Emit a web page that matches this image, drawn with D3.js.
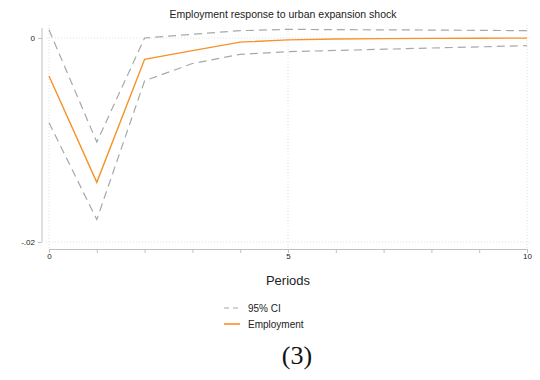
<!DOCTYPE html>
<html>
<head>
<meta charset="utf-8">
<script src="https://cdn.jsdelivr.net/npm/d3@7"></script>
<style>
  body { margin: 0; background: #fff; }
  svg { display: block; }
</style>
</head>
<body>
<svg id="chart" width="540" height="380"></svg>
<script>
// Impulse response of employment to an urban expansion shock
const periods = [0, 1, 2, 3, 4, 5, 6, 7, 8, 9, 10];
const employment = [-0.00372, -0.01415, -0.00209, -0.00124, -0.0004, -0.00018, -0.0001, -0.00006, -0.00004, -0.00002, -0.00001];
const ciUpper = [0.0008, -0.0102, 0.0, 0.00036, 0.00072, 0.00085, 0.00082, 0.0008, 0.00078, 0.00075, 0.00072];
const ciLower = [-0.0083, -0.0178, -0.0042, -0.0025, -0.0016, -0.00134, -0.00122, -0.0011, -0.00098, -0.00087, -0.00075];
const xMajorTicks = [0, 5, 10];
const yTicks = [0, -0.02];
const yTickLabels = ["0", "-.02"];

const svg = d3.select("#chart");
const font = "Helvetica, Arial, 'Liberation Sans', sans-serif";

const x = d3.scaleLinear().domain([0, 10]).range([49, 527]);
const y = d3.scaleLinear().domain([-0.02, 0]).range([242, 38]);

// Gridlines
const grid = svg.append("g").attr("stroke", "#d8d8d8").attr("stroke-width", 0.8)
  .attr("stroke-dasharray", "1,2");
xMajorTicks.forEach(t => {
  grid.append("line").attr("x1", x(t)).attr("x2", x(t)).attr("y1", 25).attr("y2", 248);
});
yTicks.forEach(t => {
  grid.append("line").attr("x1", 46).attr("x2", 530).attr("y1", y(t)).attr("y2", y(t));
});

// X axis
const xAxis = svg.append("g").attr("transform", "translate(0,249)")
  .call(d3.axisBottom(x).tickValues(periods).tickSize(4).tickSizeOuter(0)
    .tickFormat(d => xMajorTicks.includes(d) ? d : ""));
xAxis.select(".domain").attr("stroke", "#c0c0c0");
xAxis.selectAll(".tick line").attr("stroke", "#c0c0c0");
xAxis.selectAll("text").attr("font-family", font).attr("font-size", 8).attr("fill", "#222").attr("dy", "0.9em").attr("y", 3);

// Y axis
const yAxis = svg.append("g").attr("transform", "translate(42,0)")
  .call(d3.axisLeft(y).tickValues(yTicks).tickSize(4).tickSizeOuter(0)
    .tickFormat((d, i) => yTickLabels[i]));
yAxis.select(".domain").attr("stroke", "#c0c0c0").attr("d", `M0,28V${y(-0.02)}`);
yAxis.selectAll(".tick line").attr("stroke", "#c0c0c0");
yAxis.selectAll("text").attr("font-family", font).attr("font-size", 8).attr("fill", "#222").attr("x", -7);

// Lines
const line = arr => d3.line().x((d, i) => x(periods[i])).y(d => y(d))(arr);
[ciUpper, ciLower].forEach(arr => {
  svg.append("path").attr("d", line(arr)).attr("fill", "none")
    .attr("stroke", "#a8a8a8").attr("stroke-width", 1.2).attr("stroke-dasharray", "8,5");
});
svg.append("path").attr("d", line(employment)).attr("fill", "none")
  .attr("stroke", "#f7922a").attr("stroke-width", 1.4);

// Title
svg.append("text").attr("x", 283).attr("y", 18).attr("text-anchor", "middle")
  .attr("font-family", font).attr("font-size", 10.5).attr("fill", "#222")
  .text("Employment response to urban expansion shock");

// Axis title
svg.append("text").attr("x", 288).attr("y", 285).attr("text-anchor", "middle")
  .attr("font-family", font).attr("font-size", 13).attr("fill", "#222").text("Periods");

// Legend
const legend = svg.append("g");
legend.append("line").attr("x1", 224).attr("x2", 240).attr("y1", 308).attr("y2", 308)
  .attr("stroke", "#a8a8a8").attr("stroke-width", 1.2).attr("stroke-dasharray", "5,4");
legend.append("text").attr("x", 248).attr("y", 311.5).attr("font-family", font)
  .attr("font-size", 10).attr("fill", "#222").text("95% CI");
legend.append("line").attr("x1", 224).attr("x2", 240).attr("y1", 324).attr("y2", 324)
  .attr("stroke", "#f7922a").attr("stroke-width", 1.6);
legend.append("text").attr("x", 248).attr("y", 327.5).attr("font-family", font)
  .attr("font-size", 10).attr("fill", "#222").text("Employment");

// Panel label
svg.append("text").attr("x", 297).attr("y", 364).attr("text-anchor", "middle")
  .attr("font-family", "'Liberation Serif', 'Times New Roman', serif").attr("font-size", 26)
  .attr("fill", "#111").text("(3)");
</script>
</body>
</html>
